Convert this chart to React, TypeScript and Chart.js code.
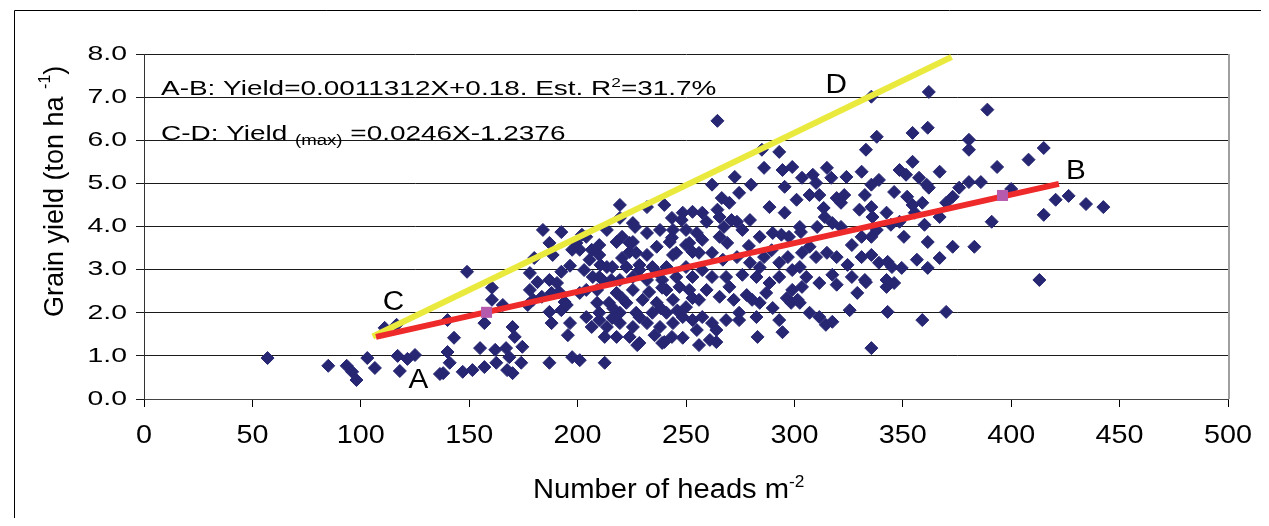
import React, { useEffect, useRef } from 'react';
import { Chart, registerables } from 'chart.js';

Chart.register(...registerables);

// ---------- data ----------
const xTickValues = [0, 50, 100, 150, 200, 250, 300, 350, 400, 450, 500];
const yTickValues = [0, 1, 2, 3, 4, 5, 6, 7, 8];
const yTickLabels = ['0.0', '1.0', '2.0', '3.0', '4.0', '5.0', '6.0', '7.0', '8.0'];

// observed plots: [heads m-2, grain yield t/ha]
const lowPlots: [number, number][] = [
  [57, 0.95], [85, 0.77], [93.5, 0.77], [96, 0.63], [98, 0.44], [103, 0.95], [106.5, 0.72], [111, 1.65],
  [116.5, 1.72], [117, 1.0], [118, 0.65], [121.5, 0.93], [125, 1.02], [136.5, 0.58], [140, 1.83], [143, 1.42],
  [140, 1.09], [141, 0.84], [138, 0.6], [147, 0.63], [151.5, 0.67], [157, 0.74], [162, 1.14], [155, 1.18],
  [162.5, 0.84], [167, 1.18], [170, 1.67], [171, 1.44], [168.5, 0.97], [170, 0.6], [174.5, 1.21], [174, 0.84],
  [167.5, 0.67], [149, 2.95], [160.5, 2.58], [160.5, 2.3], [157, 1.76], [165.5, 2.18], [177, 2.18],
];

const midPlots: [number, number][] = [
  [184, 3.92], [192.5, 3.87], [187, 3.62], [188.5, 3.34], [180, 3.27], [178, 2.92], [181.5, 2.71], [178, 2.53],
  [179.5, 2.3], [183.5, 2.37], [187, 2.76], [190.5, 2.69], [188, 2.46], [191.5, 2.48], [194, 2.25], [192.5, 2.06],
  [187, 2.02], [188, 1.76], [195, 2.18], [196.5, 1.76], [195.5, 1.48], [197.5, 3.46], [199.5, 3.62], [187, 0.84],
  [197.5, 0.97], [212.5, 0.84], [202, 3.81], [201, 3.46], [206.5, 3.46], [205.5, 3.23], [210, 3.57], [213.5, 3.92],
  [219.5, 4.5], [219.5, 4.2], [210, 3.34], [213.5, 3.06], [210, 2.83], [204, 2.53], [209, 2.53], [211.5, 2.76],
  [215.5, 2.76], [209, 2.23], [214.5, 2.23], [204, 1.9], [210, 1.83], [216, 1.88], [206.5, 1.67], [213.5, 1.67],
  [219.5, 1.76], [218, 1.44], [225.5, 1.67], [224, 1.44], [228.5, 1.3], [239, 1.3], [248.5, 1.42], [232, 4.45],
  [240, 4.5], [243.5, 4.2], [248.5, 4.32], [253, 4.34], [225.5, 4.08], [232, 3.85], [238, 3.92], [244, 3.92],
  [250, 3.92], [218, 3.64], [225.5, 3.64], [224, 3.41], [232, 3.34], [236.5, 3.53], [242.5, 3.64], [250, 3.57],
  [244, 3.34], [253, 3.41], [216, 3.06], [222.5, 3.06], [228.5, 3.11], [234.5, 3.06], [241, 3.06], [250, 3.06],
  [253, 2.83], [219.5, 2.76], [225.5, 2.83], [232, 2.76], [239, 2.76], [245.5, 2.83], [218, 2.46], [225.5, 2.53],
  [233, 2.48], [241, 2.53], [247, 2.6], [251.5, 2.53], [222.5, 2.23], [230, 2.3], [236.5, 2.23], [244, 2.3],
  [250, 2.13], [219.5, 2.0], [227, 2.0], [234.5, 2.0], [241, 2.0], [248.5, 1.9], [253, 1.83], [232, 1.76],
  [238, 1.67], [244, 1.76], [204, 3.76], [210.5, 3.11], [220.5, 3.27], [227, 3.39], [245.5, 3.39], [251.5, 3.62],
  [207, 2.83], [228.5, 2.99], [236.5, 2.95], [201, 2.46], [220.5, 2.34], [239, 2.58], [253, 2.34], [210, 2.0],
  [228.5, 1.9], [212.5, 1.44], [227.5, 1.25], [240, 1.32], [201, 0.9], [248, 4.15], [226.5, 3.99], [220.5, 3.76],
  [224, 3.62], [243.5, 3.74], [255, 3.85], [235.5, 1.48], [243.5, 1.44], [255, 1.6], [256, 1.25], [196.5, 3.09],
  [203, 2.99], [192.5, 2.95], [216.5, 2.1], [238.5, 2.1], [246, 2.05],
];

const upperPlots: [number, number][] = [
  [264.5, 6.45], [285, 5.78], [293, 5.73], [286, 5.36], [294.5, 5.31], [299, 5.38], [295.5, 4.92], [262, 4.97],
  [272.5, 5.15], [280, 4.97], [274.5, 4.78], [266.5, 4.66], [270, 4.55], [288.5, 4.45], [295.5, 4.32], [301, 4.62],
  [257.5, 4.32], [259.5, 4.11], [265.5, 4.22], [267.5, 3.99], [273.5, 4.11], [279.5, 4.15], [276, 3.92], [284, 3.76],
  [290, 3.85], [294, 3.81], [297.5, 3.76], [257.5, 3.69], [265.5, 3.76], [269, 3.62], [256, 3.39], [262, 3.39],
  [267, 3.23], [273.5, 3.29], [279.5, 3.16], [286, 3.29], [293, 3.16], [297, 3.29], [257.5, 2.99], [262, 2.83],
  [268.5, 2.83], [276, 2.88], [282.5, 2.83], [288.5, 2.69], [293, 2.83], [299, 2.99], [259.5, 2.53], [265.5, 2.37],
  [272, 2.3], [278, 2.41], [284, 2.23], [290, 2.11], [296.5, 2.34], [299, 2.53], [257.5, 1.9], [262, 1.76],
  [268.5, 1.83], [274.5, 1.83], [293, 1.83], [294.5, 1.55], [264, 1.32], [283, 1.44], [280.5, 2.3], [287, 2.46],
  [274.5, 2.0], [282.5, 1.9], [264, 1.6], [261, 1.37], [256, 2.3], [264.5, 4.39], [271, 4.15], [298.5, 2.23],
  [270, 2.6], [284, 3.05], [279, 3.55], [289.5, 3.45],
];

const highPlots: [number, number][] = [
  [335.5, 7.01], [362, 7.12], [389, 6.71], [338, 6.08], [354.5, 6.17], [361.5, 6.29], [333, 5.78], [380.5, 6.01],
  [380.5, 5.78], [354.5, 5.5], [367, 5.27], [393.5, 5.38], [408, 5.55], [415, 5.82], [315, 5.36], [308.5, 5.2],
  [303.5, 5.13], [310, 5.01], [317, 5.13], [324, 5.15], [331, 5.27], [348.5, 5.31], [351.5, 5.2], [357.5, 5.13],
  [361, 4.97], [335.5, 4.97], [339, 5.08], [346, 4.8], [362, 4.9], [376, 4.9], [380.5, 5.03], [386, 5.03],
  [373, 4.69], [370, 4.55], [307, 4.73], [311.5, 4.73], [319.5, 4.66], [323, 4.73], [332.5, 4.73], [313.5, 4.43],
  [321.5, 4.55], [330, 4.39], [335.5, 4.45], [352, 4.69], [354.5, 4.5], [359, 4.55], [355.5, 4.32], [342.5, 4.32],
  [336, 4.22], [367, 4.22], [314, 4.22], [302.5, 3.99], [310.5, 3.99], [317.5, 4.08], [321.5, 3.99], [331, 3.76],
  [335.5, 3.76], [338, 3.92], [344.5, 4.04], [348.5, 4.11], [360, 4.04], [391, 4.11], [350.5, 3.76], [361.5, 3.64],
  [303.5, 3.39], [307, 3.53], [310, 3.29], [315, 3.39], [319.5, 3.29], [326.5, 3.57], [331, 3.29], [335.5, 3.34],
  [339, 3.16], [343, 3.18], [349.5, 3.04], [356.5, 3.23], [361.5, 3.04], [367, 3.27], [373, 3.53], [383, 3.53],
  [302.5, 3.06], [324.5, 3.11], [305.5, 2.83], [311.5, 2.69], [317.5, 2.88], [319.5, 2.65], [326.5, 2.83], [332.5, 2.76],
  [342.5, 2.6], [346, 2.69], [329, 2.46], [302.5, 2.23], [307, 2.0], [311.5, 1.9], [314.5, 1.72], [317.5, 1.79],
  [325.5, 2.06], [343, 2.02], [359, 1.83], [370, 2.02], [335.5, 1.18], [303.5, 2.6], [420.5, 4.62], [426.5, 4.71],
  [434.5, 4.52], [442.5, 4.45], [415, 4.27], [413, 2.76], [400, 4.87], [303, 3.87], [333, 2.71], [342.5, 2.76],
  [345, 3.06], [301.5, 2.3],
];

// fitted line A-B (mean yield) and boundary line C-D (max yield)
const abHeads = [107, 422];
const abYield = [1.44, 4.99];
const cdHeads = [105.5, 372.5];
const cdYield = [1.45, 7.93];
// markers on the A-B line
const markerHeads = [158, 396];
const markerYield = [2.01, 4.72];

// point labels
const letterText = ['A', 'B', 'C', 'D'];
const letterHeads = [122, 425.3, 110.1, 314.3];
const letterYield = [0.26, 5.1, 2.06, 7.1];

// ---------- helpers ----------
const FONT = '"Liberation Sans", Arial, Helvetica, sans-serif';

type Part = { t: string; size: number; dy: number };

function drawScaled(
  ctx: CanvasRenderingContext2D, text: string, x: number, y: number, size: number, sx: number,
  align: CanvasTextAlign, baseline: CanvasTextBaseline,
) {
  ctx.save();
  ctx.font = `${size}px ${FONT}`;
  ctx.textAlign = align;
  ctx.textBaseline = baseline;
  ctx.translate(x, y);
  ctx.scale(sx, 1);
  ctx.fillText(text, 0, 0);
  ctx.restore();
}

function drawRich(ctx: CanvasRenderingContext2D, parts: Part[], x: number, y: number, sx: number) {
  let cx = x;
  for (const p of parts) {
    ctx.save();
    ctx.font = `${p.size}px ${FONT}`;
    ctx.textAlign = 'left';
    ctx.textBaseline = 'alphabetic';
    const w = ctx.measureText(p.t).width * sx;
    ctx.translate(cx, y + p.dy);
    ctx.scale(sx, 1);
    ctx.fillText(p.t, 0, 0);
    ctx.restore();
    cx += w;
  }
}

const decorPlugin = {
  id: 'decor',
  beforeDatasetsDraw(chart: any) {
    const { ctx, chartArea: a } = chart;
    ctx.save();
    ctx.strokeStyle = '#a0a0a0';
    ctx.lineWidth = 2;
    ctx.beginPath();
    ctx.moveTo(a.right + 1, a.top);
    ctx.lineTo(a.right + 1, a.bottom);
    ctx.stroke();
    ctx.restore();
  },
  afterDraw(chart: any) {
    const { ctx, chartArea: a, scales } = chart;
    const xs = scales.x;
    const ys = scales.y;
    ctx.save();
    ctx.fillStyle = '#000';
    // outer frame (left and top)
    ctx.strokeStyle = '#000';
    ctx.lineWidth = 1;
    ctx.beginPath();
    ctx.moveTo(6.5, chart.height);
    ctx.lineTo(6.5, 2.5);
    ctx.lineTo(chart.width, 2.5);
    ctx.stroke();

    // tick labels
    yTickValues.forEach((v, i) =>
      drawScaled(ctx, yTickLabels[i], a.left - 17, ys.getPixelForValue(v), 21, 1.35, 'right', 'middle'));
    xTickValues.forEach((v) =>
      drawScaled(ctx, String(v), xs.getPixelForValue(v), a.bottom + 37, 25, 1.15, 'center', 'middle'));

    // axis titles
    drawRich(ctx, [
      { t: 'Number of heads m', size: 27, dy: 0 },
      { t: '-2', size: 16, dy: -11 },
    ], 525, 490, 1.08);
    ctx.save();
    ctx.translate(55, 309);
    ctx.rotate(-Math.PI / 2);
    drawRich(ctx, [
      { t: 'Grain yield (ton ha ', size: 27, dy: 0 },
      { t: '-1', size: 16, dy: -13 },
      { t: ')', size: 27, dy: 0 },
    ], 0, 0, 1.0);
    ctx.restore();

    // equations
    drawRich(ctx, [
      { t: 'A-B: Yield=0.0011312X+0.18. Est. R', size: 21, dy: 0 },
      { t: '2', size: 13, dy: -8 },
      { t: '=31.7%', size: 21, dy: 0 },
    ], a.left + 17, 87, 1.33);
    drawRich(ctx, [
      { t: 'C-D: Yield ', size: 21, dy: 0 },
      { t: '(max)', size: 14, dy: 5 },
      { t: ' =0.0246X-1.2376', size: 21, dy: 0 },
    ], a.left + 17, 132, 1.33);

    // point letters
    letterText.forEach((t, i) =>
      drawScaled(ctx, t, xs.getPixelForValue(letterHeads[i]), ys.getPixelForValue(letterYield[i]), 27, 1.1, 'left', 'alphabetic'));
    ctx.restore();
  },
};

const toPts = (arr: [number, number][]) => arr.map(([x, y]) => ({ x, y }));
const zip = (xs: number[], ys: number[]) => xs.map((x, i) => ({ x, y: ys[i] }));

export default function App() {
  const ref = useRef<HTMLCanvasElement>(null);
  useEffect(() => {
    if (!ref.current) return;
    const observed = [
      ...toPts(lowPlots), ...toPts(midPlots), ...toPts(upperPlots), ...toPts(highPlots),
    ];
    const chart = new Chart(ref.current, {
      type: 'scatter',
      data: {
        datasets: [
          {
            label: 'markers',
            data: zip(markerHeads, markerYield),
            pointStyle: 'rect',
            pointRadius: 7.8,
            backgroundColor: '#B65AAE',
            borderColor: '#B65AAE',
            borderWidth: 0,
            showLine: false,
          } as any,
          {
            label: 'A-B',
            data: zip(abHeads, abYield),
            showLine: true,
            borderColor: '#EE2A2A',
            borderWidth: 6,
            pointRadius: 0,
            borderCapStyle: 'butt',
          } as any,
          {
            label: 'C-D',
            data: zip(cdHeads, cdYield),
            showLine: true,
            borderColor: '#EAEA3E',
            borderWidth: 6,
            pointRadius: 0,
            borderCapStyle: 'butt',
          } as any,
          {
            label: 'observed',
            data: observed,
            pointStyle: 'rectRot',
            pointRadius: 6.5,
            backgroundColor: '#262673',
            borderColor: '#262673',
            borderWidth: 1,
            showLine: false,
          } as any,
        ],
      },
      options: {
        responsive: true,
        maintainAspectRatio: false,
        animation: false,
        events: [],
        layout: { padding: { left: 96, right: 33, top: 46, bottom: 79 } },
        plugins: { legend: { display: false }, tooltip: { enabled: false } },
        scales: {
          x: {
            type: 'linear',
            min: 0,
            max: 500,
            ticks: { stepSize: 50, display: false },
            grid: { drawOnChartArea: false, drawTicks: true, tickLength: 8, color: '#000' },
            border: { display: true, color: '#444', width: 1 },
            afterFit: (s: any) => { s.height = 40; },
          },
          y: {
            type: 'linear',
            min: 0,
            max: 8,
            ticks: { stepSize: 1, display: false },
            grid: { drawTicks: true, tickLength: 8, color: '#1a1a1a' },
            border: { display: true, color: '#333', width: 1 },
            afterFit: (s: any) => { s.width = 40; },
          },
        },
      } as any,
      plugins: [decorPlugin],
    });
    return () => chart.destroy();
  }, []);
  return (
    <div style={{ position: 'relative', width: '1253px', height: '510px' }}>
      <canvas ref={ref} />
    </div>
  );
}
